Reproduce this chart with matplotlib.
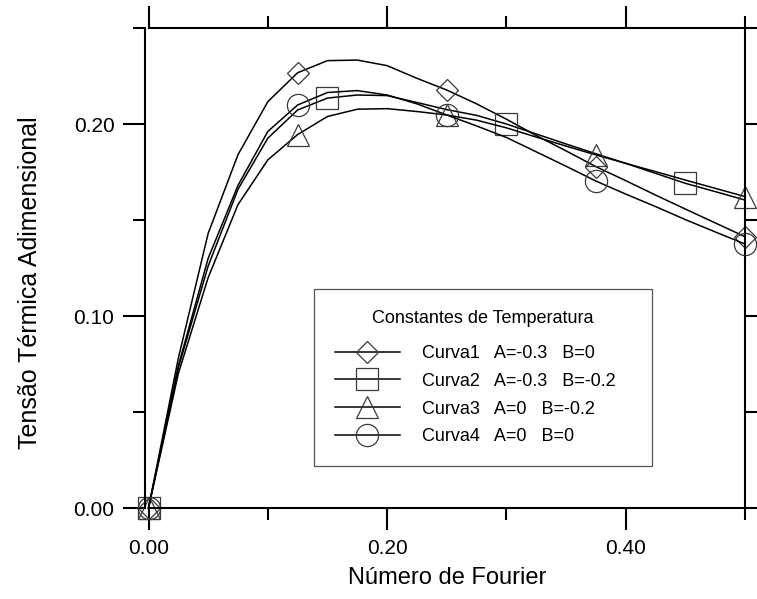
import matplotlib
matplotlib.use("Agg")
import matplotlib.pyplot as plt

# Número de Fourier (vertices of the polylines)
fourier = [0.000, 0.025, 0.050, 0.075, 0.100, 0.125, 0.150, 0.175, 0.200, 0.225,
           0.250, 0.275, 0.300, 0.325, 0.350, 0.375, 0.400, 0.425, 0.450, 0.475, 0.500]

curva1 = [0.000, 0.078, 0.143, 0.184, 0.2116, 0.2267, 0.2330, 0.2333, 0.2304, 0.2238,
          0.2177, 0.2105, 0.2025, 0.1940, 0.1860, 0.1778, 0.1705, 0.1630, 0.1557, 0.1485, 0.1413]
curva2 = [0.000, 0.073, 0.126, 0.166, 0.1926, 0.2073, 0.2135, 0.2151, 0.2148, 0.2112,
          0.2075, 0.2045, 0.2000, 0.1948, 0.1896, 0.1845, 0.1795, 0.1743, 0.1691, 0.1648, 0.1604]
curva3 = [0.000, 0.070, 0.120, 0.158, 0.1813, 0.1945, 0.2039, 0.2077, 0.2080, 0.2065,
          0.2047, 0.2020, 0.1980, 0.1932, 0.1885, 0.1839, 0.1795, 0.1752, 0.1708, 0.1665, 0.1622]
curva4 = [0.000, 0.074, 0.130, 0.168, 0.1961, 0.2099, 0.2164, 0.2174, 0.2151, 0.2105,
          0.2047, 0.1990, 0.1930, 0.1855, 0.1780, 0.1703, 0.1635, 0.1570, 0.1502, 0.1438, 0.1375]

labels = ["Curva1   A=-0.3   B=0", "Curva2   A=-0.3   B=-0.2",
          "Curva3   A=0   B=-0.2", "Curva4   A=0   B=0"]
markers = ["D", "s", "^", "o"]
msizes = [11.5, 16, 15.5, 16]
mark_idx = [[0, 5, 10, 15, 20], [0, 6, 12, 18], [0, 5, 10, 15, 20], [0, 5, 10, 15, 20]]

plt.rcParams['font.family'] = ['Liberation Sans', 'DejaVu Sans']

fig = plt.figure(figsize=(7.57, 5.99), dpi=100)
ax = fig.add_axes([148.5 / 757, 91 / 599, 596.5 / 757, 480 / 599])

for ys, lab, m, ms, idx in zip([curva1, curva2, curva3, curva4], labels, markers, msizes, mark_idx):
    ax.plot(fourier, ys, color='black', lw=1.1, marker=m, ms=ms, mfc='none',
            mec='#3a3a3a', mew=0.9, markevery=idx, clip_on=False, label=lab)

ax.set_xlim(0, 0.5)
ax.set_ylim(0, 0.25)
ax.set_xticks([0.0, 0.2, 0.4])
ax.set_xticks([0.1, 0.3, 0.5], minor=True)
ax.set_yticks([0.0, 0.1, 0.2])
ax.set_yticks([0.05, 0.15, 0.25], minor=True)
ax.set_xticklabels(["0.00", "0.20", "0.40"])
ax.set_yticklabels(["0.00", "0.10", "0.20"])

ax.tick_params(which='both', direction='out', top=True, right=True, width=1.5,
               labelsize=15, color='black')
ax.tick_params(which='major', length=16, pad=6)
ax.tick_params(which='minor', length=8.5)

for s in ax.spines.values():
    s.set_linewidth(1.5)
ax.spines['left'].set_position(('outward', 2.5))

ax.set_xlabel("Número de Fourier", fontsize=17, labelpad=7)
ax.set_ylabel("Tensão Térmica Adimensional", fontsize=18)
ax.yaxis.set_label_coords(-0.178, 0.47)

# legend box spans 314..652 px wide, top at 289 px
leg = ax.legend(title="Constantes de Temperatura", loc='upper left',
                bbox_to_anchor=(0.2775, 0.08, 0.5665, 0.376), mode='expand',
                borderaxespad=0, fontsize=13, title_fontsize=13,
                numpoints=1, handlelength=3.6, handletextpad=1.25, labelspacing=0.6,
                borderpad=1.15, fancybox=False, framealpha=1, edgecolor='#555555')
leg.get_frame().set_linewidth(0.9)
leg._legend_box.sep = 13

fig.savefig("out.png", dpi=100)
